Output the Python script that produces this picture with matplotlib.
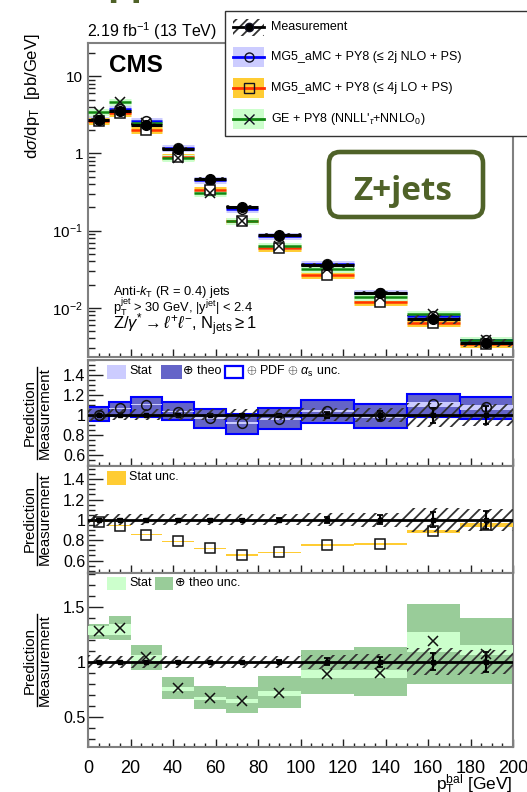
import numpy as np
import matplotlib
matplotlib.use('Agg')
import matplotlib.pyplot as plt
from matplotlib.patches import Rectangle, FancyBboxPatch
from matplotlib.lines import Line2D
from matplotlib.ticker import MultipleLocator, FixedLocator, FixedFormatter, LogLocator, NullFormatter

plt.rcParams['font.family'] = ['Liberation Sans', 'DejaVu Sans']
plt.rcParams['mathtext.fontset'] = 'custom'
plt.rcParams['mathtext.rm'] = 'Liberation Sans'
plt.rcParams['mathtext.it'] = 'Liberation Sans:italic'
plt.rcParams['mathtext.bf'] = 'Liberation Sans:bold'
plt.rcParams['hatch.linewidth'] = 1.3

# binning in pT^bal [GeV]
edges = np.array([0, 10, 20, 35, 50, 65, 80, 100, 125, 150, 175, 200])
centers = 0.5 * (edges[:-1] + edges[1:])
widths = np.diff(edges)

# measured dsigma/dpT [pb/GeV]
meas = np.array([2.70, 3.55, 2.37, 1.15, 0.466, 0.205, 0.0883, 0.0355, 0.0156, 0.0071, 0.00353])
meas_unc = np.array([0.06, 0.055, 0.055, 0.055, 0.055, 0.055, 0.055, 0.065, 0.07, 0.12, 0.11])   # total, relative
meas_stat = np.array([0.004, 0.004, 0.005, 0.006, 0.008, 0.01, 0.015, 0.03, 0.045, 0.075, 0.09])  # stat, relative

# predictions [pb/GeV]
nlo_pred = np.array([2.70, 3.79, 2.61, 1.19, 0.451, 0.188, 0.0846, 0.0370, 0.01544, 0.00788, 0.00380])
lo_pred = np.array([2.65, 3.35, 2.02, 0.909, 0.335, 0.134, 0.0600, 0.0267, 0.01193, 0.0063, 0.00335])
ge_pred = np.array([3.45, 4.64, 2.46, 0.872, 0.310, 0.132, 0.0630, 0.0315, 0.01396, 0.00842, 0.00378])

# uncertainty bands, in units of prediction/measurement
nlo_tot_lo = np.array([0.94, 0.985, 0.977, 0.947, 0.867, 0.814, 0.857, 0.915, 0.873, 0.98, 0.958])
nlo_tot_hi = np.array([1.076, 1.133, 1.176, 1.127, 1.06, 1.009, 1.067, 1.15, 1.11, 1.21, 1.184])
nlo_stat = np.array([0.005, 0.006, 0.006, 0.007, 0.008, 0.01, 0.01, 0.012, 0.015, 0.025, 0.025])
lo_stat = np.array([0.004, 0.004, 0.004, 0.005, 0.005, 0.006, 0.006, 0.007, 0.008, 0.015, 0.02])
ge_theo_lo = np.array([1.207, 1.2, 0.924, 0.664, 0.565, 0.535, 0.58, 0.704, 0.688, 0.795, 0.80])
ge_theo_hi = np.array([1.345, 1.415, 1.155, 0.863, 0.774, 0.765, 0.872, 1.11, 1.131, 1.528, 1.397])
ge_stat_lo = np.array([1.247, 1.24, 1.005, 0.735, 0.65, 0.62, 0.69, 0.85, 0.85, 1.09, 1.06])
ge_stat_hi = np.array([1.324, 1.34, 1.06, 0.77, 0.68, 0.66, 0.73, 0.92, 0.92, 1.27, 1.15])

NLO_LINE, NLO_BAND, NLO_THEO = '#0000ff', '#ccccff', '#6464c8'
LO_LINE, LO_BAND = '#ff3300', '#ffcc33'
GE_LINE, GE_BAND, GE_THEO = '#118811', '#ccffcc', '#99cc99'
OLIVE = '#4f6228'
HATCH_C = '#333333'

W, H = 527, 792
fig = plt.figure(figsize=(W / 100, H / 100), dpi=100)


def px_axes(left, top, right, bottom):
    return fig.add_axes([left / W, 1 - bottom / H, (right - left) / W, (bottom - top) / H])


ax = px_axes(88, 43, 513, 357)
r1 = px_axes(88, 360, 513, 466)
r2 = px_axes(88, 466, 513, 572.7)
r3 = px_axes(88, 572.7, 513, 747.3)


def style(a):
    for s in a.spines.values():
        s.set_color('#808080')
        s.set_linewidth(1.5)
    a.set_xlim(0, 200)
    a.xaxis.set_major_locator(MultipleLocator(20))
    a.xaxis.set_minor_locator(MultipleLocator(5))
    a.tick_params(which='both', direction='in', top=False, right=False, color='#222222', width=1)
    a.tick_params(axis='x', which='major', length=5.5)
    a.tick_params(axis='x', which='minor', length=3)


# ---- main panel ----
style(ax)
ax.set_yscale('log')
ax.set_ylim(0.0023, 27)
for pred, line_c, band_c in [(nlo_pred, NLO_LINE, NLO_BAND), (lo_pred, LO_LINE, LO_BAND),
                             (ge_pred, GE_LINE, GE_BAND)]:
    ax.hlines(pred, edges[:-1], edges[1:], color=band_c, lw=5, zorder=2)
    ax.hlines(pred, edges[:-1], edges[1:], color=line_c, lw=1.8, zorder=3)
ax.bar(edges[:-1], 2 * meas * meas_unc, bottom=meas * (1 - meas_unc), width=widths, align='edge',
       facecolor='none', edgecolor=HATCH_C, hatch='///', lw=0, zorder=4)
ax.hlines(meas, edges[:-1], edges[1:], color='black', lw=2.2, zorder=5)
ax.plot(centers, nlo_pred, 'o', ms=7, mfc='white', mec='#111111', mew=1.1, zorder=6)
ax.plot(centers, lo_pred, 's', ms=7, mfc='white', mec='#111111', mew=1.1, zorder=6)
ax.plot(centers, ge_pred, 'x', ms=7, mec='#111111', mew=1.1, zorder=6)
ax.errorbar(centers, meas, yerr=meas * meas_stat, fmt='o', ms=7, color='black', lw=1.2, zorder=7)
ax.yaxis.set_major_locator(FixedLocator([0.01, 0.1, 1, 10]))
ax.yaxis.set_major_formatter(FixedFormatter(['$10^{-2}$', '$10^{-1}$', '1', '10']))
ax.yaxis.set_minor_locator(LogLocator(base=10, subs=np.arange(2, 10)))
ax.yaxis.set_minor_formatter(NullFormatter())
ax.tick_params(axis='y', which='major', length=9, labelsize=11, pad=3.5)
ax.tick_params(axis='y', which='minor', length=4.8)
ax.tick_params(axis='x', labelbottom=False)

ax.text(0.059, 0.199, r'Anti-$k_{\mathrm{T}}$ (R = 0.4) jets', transform=ax.transAxes, fontsize=9.3)
ax.text(0.059, 0.143, r'$\mathrm{p}_{\mathrm{T}}^{\mathrm{jet}}$ > 30 GeV, |$\mathrm{y}^{\mathrm{jet}}$| < 2.4',
        transform=ax.transAxes, fontsize=9.3)
ax.text(0.059, 0.086, r'Z/$\gamma^{*}\rightarrow\ell^{+}\ell^{-}$, N$_{\mathrm{jets}}\geq 1$',
        transform=ax.transAxes, fontsize=12)


# ---- ratio panels ----
def ratio_common(a, lo, hi, major, labels, minor):
    style(a)
    a.set_ylim(lo, hi)
    a.yaxis.set_major_locator(FixedLocator(major))
    a.yaxis.set_major_formatter(FixedFormatter(labels))
    a.yaxis.set_minor_locator(MultipleLocator(minor))
    a.tick_params(axis='y', which='major', length=10.5, labelsize=11.5, pad=2)
    a.tick_params(axis='y', which='minor', length=4.8)


def measurement_overlay(a):
    a.bar(edges[:-1], 2 * meas_unc, bottom=1 - meas_unc, width=widths, align='edge',
          facecolor='none', edgecolor=HATCH_C, hatch='///', lw=0, zorder=4)
    a.axhline(1, color='black', lw=2, zorder=5)
    a.errorbar(centers, np.ones_like(centers), yerr=meas_stat, fmt='s', ms=3, color='black',
               lw=1.5, capsize=2, capthick=1.3, zorder=6)


ratio_common(r1, 0.49, 1.55, [0.6, 0.8, 1.0, 1.2, 1.4], ['0.6', '0.8', '1', '1.2', '1.4'], 0.05)
nlo_ratio = nlo_pred / meas
r1.bar(edges[:-1], nlo_tot_hi - nlo_tot_lo, bottom=nlo_tot_lo, width=widths, align='edge',
       facecolor=NLO_THEO, edgecolor=NLO_LINE, lw=1.5, zorder=2)
r1.bar(edges[:-1], 2 * nlo_stat, bottom=nlo_ratio - nlo_stat, width=widths, align='edge',
       facecolor=NLO_BAND, lw=0, zorder=3)
measurement_overlay(r1)
r1.plot(centers, nlo_ratio, 'o', ms=7, mfc='none', mec='#111111', mew=1.1, zorder=7)
r1.tick_params(axis='x', labelbottom=False)

ratio_common(r2, 0.48, 1.53, [0.6, 0.8, 1.0, 1.2, 1.4], ['0.6', '0.8', '1', '1.2', '1.4'], 0.05)
lo_ratio = lo_pred / meas
r2.bar(edges[:-1], 2 * lo_stat, bottom=lo_ratio - lo_stat, width=widths, align='edge',
       facecolor=LO_BAND, lw=0, zorder=3)
measurement_overlay(r2)
r2.plot(centers, lo_ratio, 's', ms=7, mfc='none', mec='#111111', mew=1.1, zorder=7)
r2.tick_params(axis='x', labelbottom=False)

ratio_common(r3, 0.22, 1.81, [0.5, 1.0, 1.5], ['0.5', '1', '1.5'], 0.1)
ge_ratio = ge_pred / meas
r3.bar(edges[:-1], ge_theo_hi - ge_theo_lo, bottom=ge_theo_lo, width=widths, align='edge',
       facecolor=GE_THEO, lw=0, zorder=2)
r3.bar(edges[:-1], ge_stat_hi - ge_stat_lo, bottom=ge_stat_lo, width=widths, align='edge',
       facecolor=GE_BAND, lw=0, zorder=3)
measurement_overlay(r3)
r3.plot(centers, ge_ratio, 'x', ms=7, mec='#111111', mew=1.1, zorder=7)
r3.tick_params(axis='x', labelsize=13, pad=9)

# ---- overlay in pixel coordinates for legends and labels ----
ov = fig.add_axes([0, 0, 1, 1], zorder=10)
ov.set_xlim(0, W)
ov.set_ylim(H, 0)
ov.axis('off')

ov.text(107, -6, 'pp', fontsize=27, fontweight='bold', family='Open Sans', color=OLIVE, va='baseline')
ov.text(87, 37, r'2.19 fb$^{-1}$ (13 TeV)', fontsize=11.5, va='baseline')
ov.text(109, 72, 'CMS', fontsize=17.5, fontweight='bold', va='baseline')
ov.text(33, 33, r'd$\sigma$/dp$_{\mathrm{T}}$  [pb/GeV]', fontsize=12, rotation=90, ha='center', va='top')
ov.text(513, 790, r'$\mathrm{p}_{\mathrm{T}}^{\mathrm{bal}}$ [GeV]', fontsize=12.5, ha='right', va='baseline')

# Prediction/Measurement fraction labels
for yc in [413, 519, 660]:
    ov.text(29.5, yc, 'Prediction', fontsize=10.8, rotation=90, ha='center', va='center')
    ov.text(44.5, yc, 'Measurement', fontsize=10.8, rotation=90, ha='center', va='center')
    ov.add_line(Line2D([37, 37], [yc - 46, yc + 46], color='black', lw=1))

# main legend
ov.add_patch(Rectangle((225, 11), 320, 124.5, facecolor='white', edgecolor='#333333', lw=1, zorder=1))
leg_rows = [
    ('Measurement', None, 'black', 'o', 'black', 27),
    ('MG5_aMC + PY8 (≤ 2j NLO + PS)', NLO_BAND, NLO_LINE, 'o', 'none', 57),
    ('MG5_aMC + PY8 (≤ 4j LO + PS)', LO_BAND, LO_LINE, 's', 'none', 88),
    (r"GE + PY8 (NNLL'$_{\tau}$+NNLO$_{0}$)", GE_BAND, GE_LINE, 'x', 'none', 119.3),
]
for label, band, line_c, mk, mfc, yc in leg_rows:
    if band is None:
        ov.add_patch(Rectangle((233, yc - 8.5), 31, 17, facecolor='none', edgecolor=HATCH_C,
                               hatch='///', lw=0, zorder=2))
    else:
        ov.add_patch(Rectangle((233, yc - 10), 31, 20, facecolor=band, lw=0, zorder=2))
    ov.add_line(Line2D([233, 264], [yc, yc], color=line_c, lw=2, zorder=3))
    ms = 6 if band is None else 6.5
    ov.plot([248.5], [yc], mk, ms=ms, mfc=mfc, mec='#111122', mew=1, color='#111122', zorder=4)
    ov.text(271, yc, label, fontsize=9, va='center', zorder=5)

# ratio legends
ov.add_patch(Rectangle((107, 365), 19, 13.5, facecolor=NLO_BAND, lw=0))
ov.text(129, 371.5, 'Stat', fontsize=9, va='center')
ov.add_patch(Rectangle((160.5, 365), 21, 13.5, facecolor=NLO_THEO, lw=0))
ov.text(183, 371.5, '⊕ theo', fontsize=9, va='center')
ov.add_patch(Rectangle((225, 365.5), 18, 12.5, facecolor='white', edgecolor=NLO_LINE, lw=1.6))
ov.text(245.5, 371.5, r'$\oplus$ PDF $\oplus$ $\alpha_{\mathrm{s}}$ unc.', fontsize=9, va='center')

ov.add_patch(Rectangle((107, 471), 19, 13.5, facecolor=LO_BAND, lw=0))
ov.text(129, 477.5, 'Stat unc.', fontsize=9, va='center')

ov.add_patch(Rectangle((107, 576.7), 19, 13.5, facecolor=GE_BAND, lw=0))
ov.text(129, 583.3, 'Stat', fontsize=9, va='center')
ov.add_patch(Rectangle((154.6, 576.7), 18.5, 13.5, facecolor=GE_THEO, lw=0))
ov.text(175, 583.3, '⊕ theo unc.', fontsize=9, va='center')

# Z+jets tag
ov.add_patch(FancyBboxPatch((329, 152), 154, 65, boxstyle='round,pad=0,rounding_size=11',
                            facecolor='white', edgecolor=OLIVE, lw=3.3))
ov.text(403, 200, 'Z+jets', fontsize=24, fontweight='bold', family='Open Sans', color=OLIVE,
        ha='center', va='baseline')

fig.savefig('out.png', dpi=100)
